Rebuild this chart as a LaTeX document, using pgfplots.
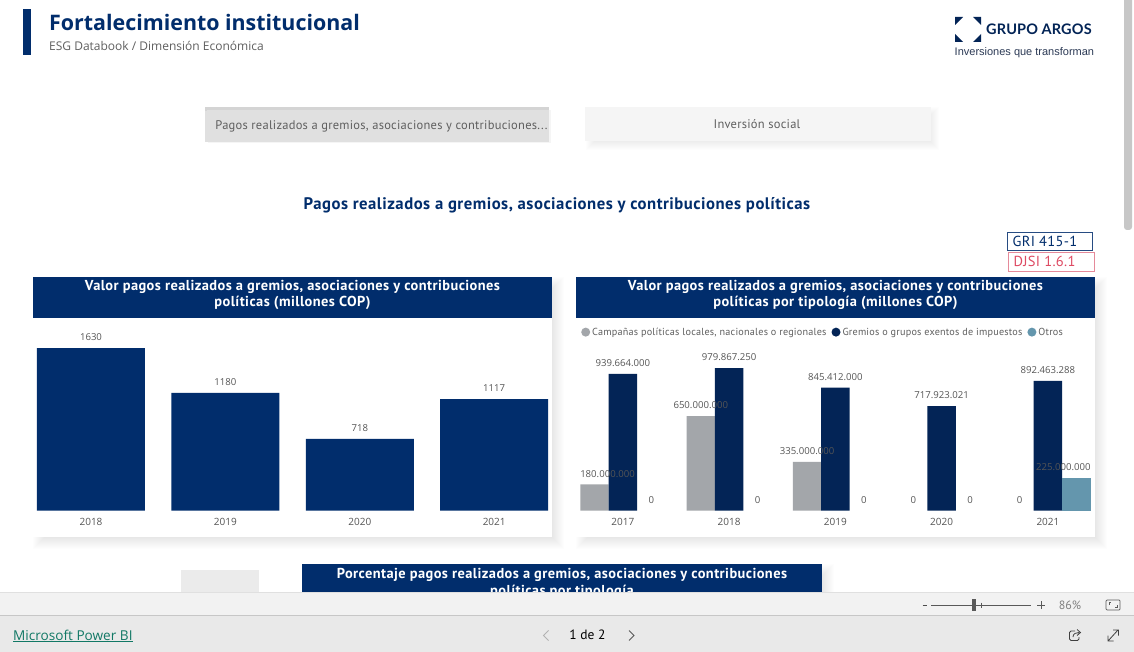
\documentclass[border=0pt]{standalone}
\usepackage{pgfplots}
\usepackage{pgfplotstable}
\usepackage{fontspec}
\pgfplotsset{compat=1.18}
\setmainfont{Open Sans}
\newfontfamily\din{PT Sans}
\newfontfamily\dinS[LetterSpace=2]{PT Sans}
\newfontfamily\dinB[LetterSpace=3,BoldFont={PT Sans Bold}]{PT Sans}
\newfontfamily\ui{Open Sans}
\newfontfamily\arfont{Liberation Sans}
\newfontfamily\latofont[LetterSpace=1]{Lato}
\newcommand\fs[1]{\fontsize{#1}{#1}\selectfont}
\definecolor{hdr}{HTML}{012D6C}
\definecolor{navy}{HTML}{032456}
\definecolor{gry}{HTML}{A3A6AA}
\definecolor{teal2}{HTML}{6496AD}
\definecolor{lab}{HTML}{555555}
\definecolor{legtxt}{HTML}{5F5F5F}
\definecolor{pbilink}{HTML}{117865}
\definecolor{djsi}{HTML}{DE4A63}
\definecolor{djsib}{HTML}{E58A9A}
\definecolor{logotxt}{HTML}{2C3A55}
\newcommand\shadowbox[4]{%
  \foreach \r in {-6,...,6}{%
    \fill[black,opacity=.009] ({#1+6-\r},{#2+6-\r}) rectangle ({#3+6+\r},{#4+6+\r});
  }}
\pgfplotstableread{
x y lab
0 1630 1630
1 1180 1180
2 718 718
3 1117 1117
}\tablepagos
\pgfplotstableread{
x y lab dx
0 180000000 180.000.000 13
1 650000000 650.000.000 0
2 335000000 335.000.000 0
3 0 0 0
4 0 0 0
}\tablecamp
\pgfplotstableread{
x y lab dx
0 939664000 939.664.000 0
1 979867250 979.867.250 0
2 845412000 845.412.000 0
3 717923021 717.923.021 0
4 892463288 892.463.288 0
}\tablegrem
\pgfplotstableread{
x y lab dx
0 0 0 0
1 0 0 0
2 0 0 0
3 0 0 0
4 225000000 225.000.000 -13
}\tableotros
\begin{document}
\begin{tikzpicture}[x=1pt,y=-1pt]
\useasboundingbox (0,0) rectangle (1134,652);
\fill[white] (0,0) rectangle (1134,652);
% header
\fill[hdr] (23,9) rectangle (31,55);
\node[anchor=west,inner sep=0,text=hdr] at (49,22) {\fs{21.4}\ui\bfseries Fortalecimiento institucional};
\node[anchor=west,inner sep=0,text=legtxt] at (49,45.5) {\fs{12}\ui ESG Databook / Dimensión Económica};
% logo
\fill[navy] (955,17) -- (963,17) .. controls (960,20) and (958,22) .. (955,25) -- cycle;
\fill[navy] (981,17) -- (973,17) .. controls (976,20) and (978,22) .. (981,25) -- cycle;
\fill[navy] (955,42) -- (963,42) .. controls (960,39) and (958,37) .. (955,34) -- cycle;
\fill[navy] (981,42) -- (973,42) .. controls (976,39) and (978,37) .. (981,34) -- cycle;
\node[anchor=west,inner sep=0,text=navy] at (986,29) {\fs{14.5}\latofont\bfseries GRUPO ARGOS};
\node[anchor=west,inner sep=0,text=logotxt] at (954.5,53) {\fs{11}\arfont Inversiones que transforman};
% scrollbar
\fill[black!22,rounded corners=3pt] (1124,-3) rectangle (1132,230);
% buttons
\fill[black!4] (208,110) rectangle (551,143.5);
\fill[black!12] (205,107) rectangle (549,142);
\fill[black!17] (205,107) rectangle (549,111);
\fill[black!12] (207,110) rectangle (549,142);
\node[inner sep=0,text=legtxt] at (381.5,126) {\fs{12.5}\dinS Pagos realizados a gremios, asociaciones y contribuciones...};
\shadowbox{586}{107}{927}{138}
\fill[black!4] (585,107) rectangle (931,141);
\node[inner sep=0,text=legtxt] at (757,124.5) {\fs{12.5}\dinS Inversión social};
% section title
\node[inner sep=0,text=hdr] at (557,205) {\fs{16.7}\dinB\bfseries Pagos realizados a gremios, asociaciones y contribuciones políticas};
% tags
\draw[hdr!85!white,line width=.9pt] (1007.5,232) rectangle (1092.5,250.5);
\node[anchor=west,inner sep=0,text=hdr] at (1012.5,241.5) {\fs{14.5}\dinS GRI 415-1};
\draw[djsib,line width=.9pt] (1008.5,252) rectangle (1094.5,271);
\node[anchor=west,inner sep=0,text=djsi] at (1013.5,261.5) {\fs{14.5}\dinS DJSI 1.6.1};
% cards
\shadowbox{33}{277}{552}{537}
\shadowbox{576}{277}{1095}{537}
\fill[white] (33,277) rectangle (552,537);
\fill[white] (576,277) rectangle (1095,537);
\fill[hdr] (33,277) rectangle (552,318);
\fill[hdr] (576,277) rectangle (1095,318);
\node[inner sep=0,text=white,align=center,font={\fontsize{14.4}{16}\selectfont\dinB\bfseries}] at (292.5,295) {Valor pagos realizados a gremios, asociaciones y contribuciones\\políticas (millones COP)};
\node[inner sep=0,text=white,align=center,font={\fontsize{14.4}{16}\selectfont\dinB\bfseries}] at (835.5,295) {Valor pagos realizados a gremios, asociaciones y contribuciones\\políticas por tipología (millones COP)};
% left chart
\begin{axis}[
  at={(33pt,-510.5pt)},anchor=south west,
  scale only axis,width=519pt,height=190pt,
  xmin=-0.4315,xmax=3.43,ymin=0,ymax=1906,
  ybar,bar width=108pt,bar shift=0pt,
  axis line style={draw=none},tick style={draw=none},
  xtick={0,1,2,3},xticklabels={2018,2019,2020,2021},ytick=\empty,
  xticklabel style={font=\fs{10}\ui,text=lab,inner sep=0pt,yshift=-3pt},
  point meta=explicit symbolic,
  nodes near coords,
  every node near coord/.append style={font=\fs{9.6}\ui,text=lab,inner sep=0pt,yshift=7pt},
  clip=false,
]
\addplot[fill=hdr,draw=none] table[x=x,y=y,meta=lab] {\tablepagos};
\end{axis}
% right chart
\begin{axis}[
  at={(576pt,-510.5pt)},anchor=south west,
  scale only axis,width=519pt,height=190pt,
  xmin=-0.4414,xmax=4.443,ymin=0,ymax=1307600000,
  ybar,bar width=28.4pt,
  axis line style={draw=none},tick style={draw=none},
  xtick={0,1,2,3,4},xticklabels={2017,2018,2019,2020,2021},ytick=\empty,
  xticklabel style={font=\fs{10}\ui,text=lab,inner sep=0pt,yshift=-3pt},
  clip=false,
  legend columns=3,
  legend style={at={(0,1)},anchor=north west,xshift=5pt,yshift=-5pt,draw=none,fill=none,
    font=\fs{10.2}\dinS,text=legtxt,inner sep=0pt,
    /tikz/every even column/.append style={column sep=3pt}},
  legend image code/.code={\fill[#1] (1pt,0) circle (4.5pt);},
  legend cell align=left,
]
\addplot[fill=gry,draw=none,bar shift=-28.4pt,y filter/.expression={y==0?nan:y}] table[x=x,y=y] {\tablecamp};
\addlegendentry{Campañas políticas locales, nacionales o regionales}
\addplot[fill=navy,draw=none,bar shift=0pt] table[x=x,y=y] {\tablegrem};
\addlegendentry{Gremios o grupos exentos de impuestos}
\addplot[fill=teal2,draw=none,bar shift=28.4pt,y filter/.expression={y==0?nan:y}] table[x=x,y=y] {\tableotros};
\addlegendentry{Otros}
\pgfplotsset{
  lblplot/.style={draw=none,fill=none,forget plot,point meta=explicit symbolic,nodes near coords,
  visualization depends on={\thisrow{dx}\as\dx},
  every node near coord/.append style={font=\fs{9.6}\ui,text=lab,inner sep=0pt,yshift=7pt,xshift=\dx pt}}}
\addplot[lblplot,bar shift=-28.4pt] table[x=x,y=y,meta=lab] {\tablecamp};
\addplot[lblplot,bar shift=0pt] table[x=x,y=y,meta=lab] {\tablegrem};
\addplot[lblplot,bar shift=28.4pt] table[x=x,y=y,meta=lab] {\tableotros};
\end{axis}
% lower part of page
\fill[black!8] (181,570) rectangle (259,592);
\shadowbox{302}{564}{822}{620}
\fill[hdr] (302,564) rectangle (822,620);
\node[inner sep=0,text=white,align=center,anchor=north,font={\fontsize{14.4}{16.5}\selectfont\dinB\bfseries}] at (562,568.5) {Porcentaje pagos realizados a gremios, asociaciones y contribuciones\\políticas por tipología};
% bottom bars
\fill[black!5] (0,592) rectangle (1134,616);
\draw[black!12] (0,592) -- (1134,592);
\fill[black!8.5] (0,616) rectangle (1134,652);
\draw[black!22] (0,615.5) -- (1134,615.5);
\node[anchor=west,inner sep=0,text=pbilink] at (13,636) {\fs{13.6}\ui\underline{Microsoft Power BI}};
\draw[black!30,line width=.8pt] (548.5,630.5) -- (543.5,635.5) -- (548.5,640.5);
\node[inner sep=0,text=black] at (587.5,635) {\fs{13.5}\din 1 de 2};
\draw[black!65,line width=.8pt] (629,630.5) -- (634,635.5) -- (629,640.5);
\draw[black!70,line width=1pt] (922.5,605.5) -- (927,605.5);
\draw[black!65,line width=.7pt] (931,605) -- (1031,605);
\fill[black!65] (972,599) rectangle (976,611);
\draw[black!65,line width=.6pt] (981.5,602.5) -- (981.5,607.5);
\draw[black!65,line width=1pt] (1037,605) -- (1045,605) (1041,601) -- (1041,609);
\node[inner sep=0,text=black!50] at (1070,605) {\fs{12}\din 86\%};
\draw[black!65,line width=.7pt,rounded corners=1pt] (1106,600) rectangle (1120,610);
\draw[black!65,line width=.6pt] (1109,605) -- (1109,602.5) -- (1111,602.5) (1117,605) -- (1117,607.5) -- (1115,607.5);
% share icon
\draw[black!75,line width=.8pt,rounded corners=1.5pt] (1075,631) -- (1069.5,631) -- (1069.5,640.5) -- (1079,640.5) -- (1079,637);
\draw[black!75,line width=.8pt] (1073,637) .. controls (1073,633.5) and (1076,632.5) .. (1079,632.5) (1077,629.5) -- (1080.5,632.5) -- (1077,635.5);
% expand icon
\draw[black!75,line width=.8pt] (1108,641) -- (1118,630) (1113,630) -- (1118.5,630) -- (1118.5,635.5) (1108,635.5) -- (1108,641) -- (1113.5,641);
\end{tikzpicture}
\end{document}
